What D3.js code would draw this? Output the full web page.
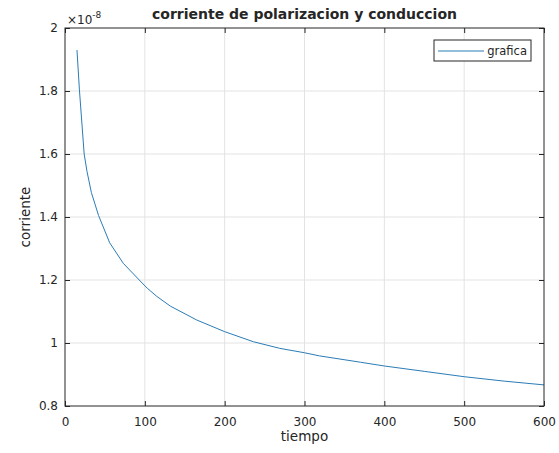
<!DOCTYPE html>
<html>
<head>
<meta charset="utf-8">
<script src="https://cdn.jsdelivr.net/npm/d3@7"></script>
<style>
  body { margin: 0; background: #fff; }
  text { font-family: "DejaVu Sans", sans-serif; fill: #262626; }
</style>
</head>
<body>
<div id="main"></div>
<script>
// data (corriente in units of 1e-8)
const tiempo = [15, 18, 24, 27.6, 33, 42, 56, 73, 93, 103, 115, 132, 165, 200, 236, 269, 300, 319, 370, 400, 450, 500, 550, 600];
const corriente = [1.93, 1.806, 1.60, 1.544, 1.478, 1.405, 1.318, 1.253, 1.20, 1.174, 1.148, 1.117, 1.073, 1.036, 1.004, 0.983, 0.969, 0.959, 0.939, 0.927, 0.91, 0.893, 0.879, 0.867];
const xTicks = [0, 100, 200, 300, 400, 500, 600];
const yTicks = [0.8, 1, 1.2, 1.4, 1.6, 1.8, 2];
const exponent = -8;
const seriesName = 'grafica';

const svgWidth = 559;
const svgHeight = 453;
const plot = { l: 65, r: 544, t: 28, b: 406 };

const svg = d3
  .select('#main')
  .append('svg')
  .attr('width', svgWidth)
  .attr('height', svgHeight);

const x = d3.scaleLinear().domain([0, 600]).range([plot.l, plot.r]);
const y = d3.scaleLinear().domain([0.8, 2]).range([plot.b, plot.t]);

// grid
svg.append('g')
  .selectAll('line')
  .data(xTicks.slice(1, -1))
  .enter()
  .append('line')
  .attr('x1', d => x(d)).attr('x2', d => x(d))
  .attr('y1', plot.t).attr('y2', plot.b)
  .attr('stroke', '#e3e3e3');

svg.append('g')
  .selectAll('line')
  .data(yTicks.slice(1, -1))
  .enter()
  .append('line')
  .attr('y1', d => y(d)).attr('y2', d => y(d))
  .attr('x1', plot.l).attr('x2', plot.r)
  .attr('stroke', '#e3e3e3');

// curve
const line = d3.line()
  .x((d, i) => x(tiempo[i]))
  .y(d => y(d));

svg.append('path')
  .datum(corriente)
  .attr('fill', 'none')
  .attr('stroke', '#2b7cb6')
  .attr('stroke-width', 1)
  .attr('d', line);

// axes, ticks pointing inward
const bottomAxis = d3.axisBottom(x).tickValues(xTicks).tickSizeInner(-5).tickSizeOuter(0).tickPadding(11);
const topAxis = d3.axisTop(x).tickValues(xTicks).tickSizeInner(-5).tickSizeOuter(0).tickFormat('');
const leftAxis = d3.axisLeft(y).tickValues(yTicks).tickSizeInner(-5).tickSizeOuter(0).tickPadding(7).tickFormat(d3.format('~g'));
const rightAxis = d3.axisRight(y).tickValues(yTicks).tickSizeInner(-5).tickSizeOuter(0).tickFormat('');

function styleAxis(g) {
  g.select('.domain').remove();
  g.selectAll('line').attr('stroke', '#262626');
  g.selectAll('text')
    .style('font-family', '"DejaVu Sans", sans-serif')
    .style('font-size', '12px')
    .attr('fill', '#262626');
}

svg.append('g').attr('transform', `translate(0,${plot.b})`).call(bottomAxis).call(styleAxis);
svg.append('g').attr('transform', `translate(0,${plot.t})`).call(topAxis).call(styleAxis);
svg.append('g').attr('transform', `translate(${plot.l},0)`).call(leftAxis).call(styleAxis);
svg.append('g').attr('transform', `translate(${plot.r},0)`).call(rightAxis).call(styleAxis);

// box
svg.append('rect')
  .attr('x', plot.l).attr('y', plot.t)
  .attr('width', plot.r - plot.l).attr('height', plot.b - plot.t)
  .attr('fill', 'none')
  .attr('stroke', '#262626')
  .attr('stroke-width', 1);

// exponent label
const expo = svg.append('text')
  .attr('x', plot.l + 2)
  .attr('y', 24)
  .style('font-size', '12px');
expo.append('tspan').text('\u00d710');
expo.append('tspan').attr('dy', -6).style('font-size', '9px').text(exponent);

// title and axis labels
svg.append('text')
  .attr('x', (plot.l + plot.r) / 2)
  .attr('y', 19)
  .attr('text-anchor', 'middle')
  .style('font-size', '14px')
  .style('font-weight', 'bold')
  .attr('fill', '#000')
  .text('corriente de polarizacion y conduccion');

svg.append('text')
  .attr('x', (plot.l + plot.r) / 2)
  .attr('y', 441)
  .attr('text-anchor', 'middle')
  .style('font-size', '13.5px')
  .text('tiempo');

svg.append('text')
  .attr('transform', `translate(30,${(plot.t + plot.b) / 2}) rotate(-90)`)
  .attr('text-anchor', 'middle')
  .style('font-size', '13.5px')
  .text('corriente');

// legend
const legend = svg.append('g').attr('transform', 'translate(434,40)');
legend.append('rect')
  .attr('width', 97).attr('height', 21)
  .attr('fill', '#fff')
  .attr('stroke', '#262626')
  .attr('stroke-width', 1);
legend.append('line')
  .attr('x1', 4).attr('x2', 50)
  .attr('y1', 11).attr('y2', 11)
  .attr('stroke', '#2b7cb6');
legend.append('text')
  .attr('x', 93)
  .attr('y', 15)
  .attr('text-anchor', 'end')
  .style('font-size', '11.5px')
  .text(seriesName);
</script>
</body>
</html>
